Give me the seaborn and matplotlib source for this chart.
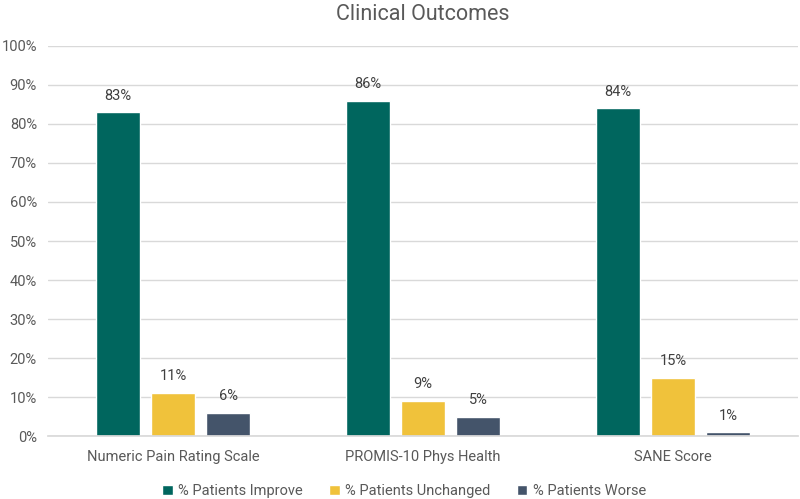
import pandas as pd
import matplotlib.pyplot as plt
import seaborn as sns
from matplotlib.ticker import PercentFormatter

categories = ["Numeric Pain Rating Scale", "PROMIS-10 Phys Health", "SANE Score"]
series = ["% Patients Improve", "% Patients Unchanged", "% Patients Worse"]
improve = [83, 86, 84]
unchanged = [11, 9, 15]
worse = [6, 5, 1]

colors = ["#00665E", "#F0C23B", "#44546A"]

rows = []
for i, cat in enumerate(categories):
    for name, vals in zip(series, [improve, unchanged, worse]):
        rows.append({"Measure": cat, "Series": name, "Value": vals[i]})
df = pd.DataFrame(rows)

sns.set_theme(style="white")
plt.rcParams['font.family'] = ['Roboto', 'DejaVu Sans']

fig = plt.figure(figsize=(8, 4.99), dpi=100)
ax = fig.add_axes([0.06, 0.126, 0.9375, 0.782])

sns.barplot(data=df, x="Measure", y="Value", hue="Series", palette=colors,
            width=0.66, gap=0.2, saturation=1, ax=ax, legend=True)

for cont in ax.containers:
    ax.bar_label(cont, labels=[f"{v:.0f}%" for v in cont.datavalues],
                 padding=7, fontsize=10.5, color="#404040")

ax.set_ylim(0, 100)
ax.set_yticks(range(0, 101, 10))
ax.yaxis.set_major_formatter(PercentFormatter(decimals=0))
ax.grid(axis="y", color="#D9D9D9", linewidth=1)
ax.set_axisbelow(True)
for s in ["top", "right", "left"]:
    ax.spines[s].set_visible(False)
ax.spines["bottom"].set_color("#D9D9D9")
ax.tick_params(axis="y", length=0, labelsize=10.5, colors="#595959", pad=8)
ax.tick_params(axis="x", length=0, labelsize=10.5, colors="#595959", pad=10)
ax.set_xlabel("")
ax.set_ylabel("")
ax.set_title("Clinical Outcomes", fontsize=15.5, color="#595959", pad=19)

ax.legend(loc="upper center", bbox_to_anchor=(0.475, -0.09), ncol=3, frameon=False,
          fontsize=10.5, handlelength=0.7, handleheight=0.7, columnspacing=1.8,
          handletextpad=0.4, labelcolor="#595959")

fig.savefig("out.png", dpi=100)
